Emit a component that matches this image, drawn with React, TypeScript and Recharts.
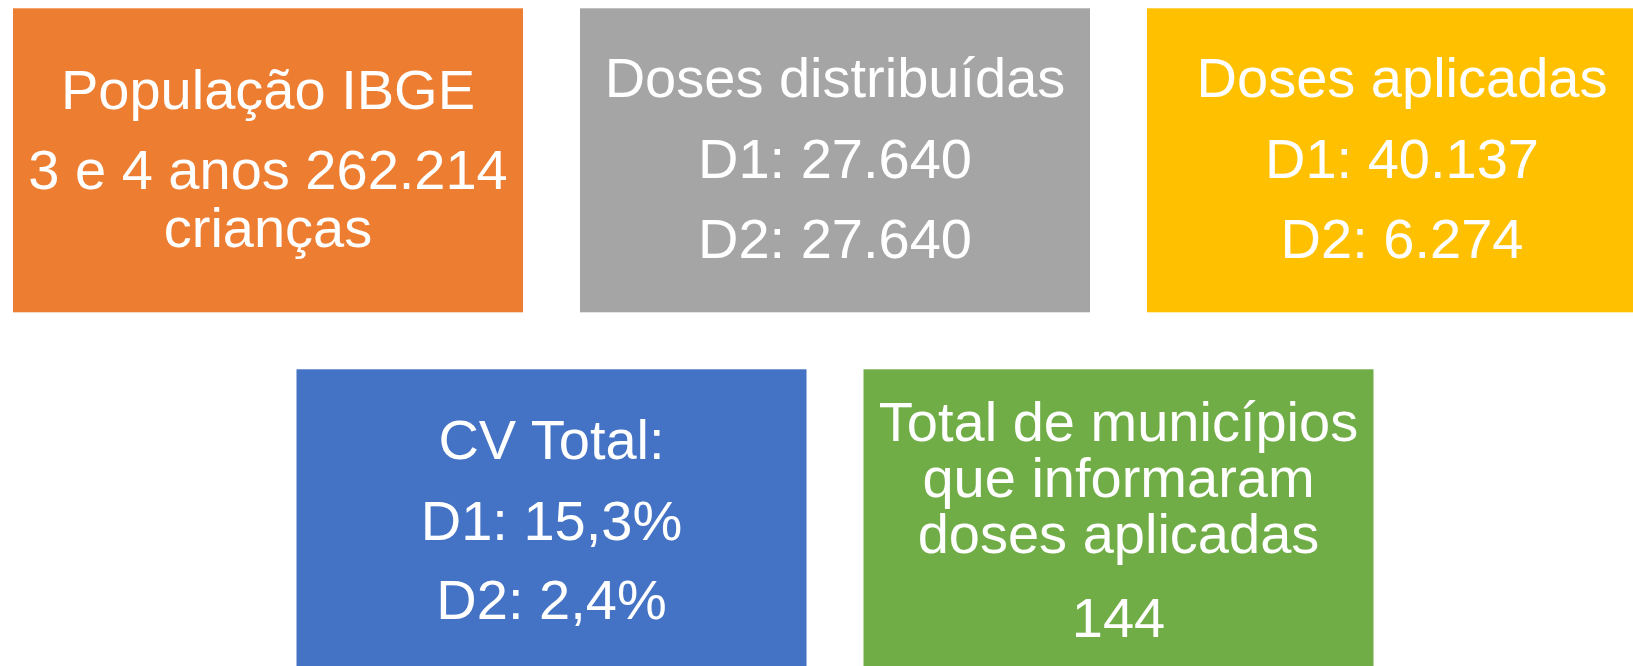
import { ScatterChart, Scatter, XAxis, YAxis } from 'recharts'

// five summary cards, placed on a grid: col / row are grid indices
const cardIds = ['populacao', 'distribuidas', 'aplicadas', 'cv', 'municipios']
const cardCols = [0, 1, 2, 0.5, 1.5]
const cardRows = [0, 0, 0, 1, 1]
const cardLines = [
  ['População IBGE', '3 e 4 anos 262.214', 'crianças'],
  ['Doses distribuídas', 'D1: 27.640', 'D2: 27.640'],
  ['Doses aplicadas', 'D1: 40.137', 'D2: 6.274'],
  ['CV Total:', 'D1: 15,3%', 'D2: 2,4%'],
  ['Total de municípios', 'que informaram', 'doses aplicadas', '144'],
]

// styling
const COLORS = ['#ED7D31', '#A5A5A5', '#FFC000', '#4472C4', '#70AD47']
const CARD_W = 510
const CARD_H = 304
const FONT_SIZE = 56
// baseline of each text line, measured from the card top
const LINE_BASELINES = [
  [100.7, 180.7, 238.4],
  [89, 170, 250],
  [89, 170, 250],
  [89.7, 170.7, 250],
  [71.4, 127.4, 184, 267.4],
]

const W = 1633
const H = 666

const data = cardIds.map((id, i) => ({
  id,
  col: cardCols[i],
  row: cardRows[i],
  lines: cardLines[i],
  idx: i,
}))

function Card(props: any) {
  const { cx, cy, payload } = props
  const left = cx - CARD_W / 2
  const top = cy - CARD_H / 2
  const i = payload.idx
  return (
    <g>
      <rect x={left} y={top} width={CARD_W} height={CARD_H} fill={COLORS[i]} />
      {payload.lines.map((line: string, j: number) => (
        <text
          key={j}
          x={cx}
          y={top + LINE_BASELINES[i][j]}
          textAnchor="middle"
          fill="#ffffff"
          fontSize={FONT_SIZE}
          fontFamily='"Liberation Sans", Arial, sans-serif'
        >
          {line}
        </text>
      ))}
    </g>
  )
}

export default function App() {
  return (
    <div style={{ position: 'absolute', left: 0, top: 0, width: W, height: H, background: '#fff' }}>
      <ScatterChart width={W} height={H} margin={{ top: 0, right: 0, bottom: 0, left: 0 }}>
        <XAxis
          type="number"
          dataKey="col"
          domain={[-268 / 567, (W - 268) / 567]}
          allowDataOverflow
          hide
        />
        <YAxis
          type="number"
          dataKey="row"
          domain={[-160.3 / 361, (H - 160.3) / 361]}
          allowDataOverflow
          reversed
          hide
        />
        <Scatter data={data} shape={Card} isAnimationActive={false} />
      </ScatterChart>
    </div>
  )
}
